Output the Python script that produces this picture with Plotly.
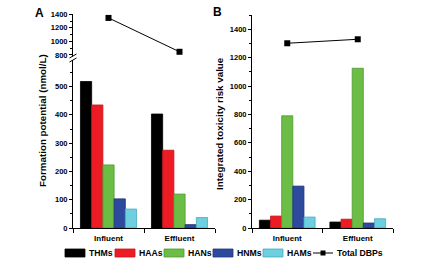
import plotly.graph_objects as go

W, H = 421, 266
def px(x): return x / W
def py(y): return 1 - y / H

categories = ["Influent", "Effluent"]
series_names = ["THMs", "HAAs", "HANs", "HNMs", "HAMs"]
colors = ["#000000", "#ed1c24", "#6cbd45", "#2e4a9e", "#6dcfe0"]
edge_colors = ["#000000", "#c8141c", "#4f9a32", "#1f3378", "#45a9bd"]

# Panel A: formation potential (nmol/L)
fp_thms = [518, 403]
fp_haas = [435, 275]
fp_hans = [223, 120]
fp_hnms = [103, 12]
fp_hams = [67, 37]
fp_total = [1346, 847]

# Panel B: integrated toxicity risk value
tr_thms = [55, 42]
tr_haas = [84, 62]
tr_hans = [790, 1125]
tr_hnms = [295, 35]
tr_hams = [77, 65]
tr_total = [1301, 1329]

FONT = "Liberation Sans, Arial, sans-serif"

fig = go.Figure()
fp = [fp_thms, fp_haas, fp_hans, fp_hnms, fp_hams]
tr = [tr_thms, tr_haas, tr_hans, tr_hnms, tr_hams]
for i, name in enumerate(series_names):
    fig.add_trace(go.Bar(x=categories, y=fp[i], name=name, xaxis="x", yaxis="y",
                         marker=dict(color=colors[i], line=dict(color=edge_colors[i], width=0.8)),
                         showlegend=False, offsetgroup=str(i)))
    fig.add_trace(go.Bar(x=categories, y=tr[i], name=name, xaxis="x2", yaxis="y2",
                         marker=dict(color=colors[i], line=dict(color=edge_colors[i], width=0.8)),
                         showlegend=False, offsetgroup=str(i)))

fig.add_trace(go.Scatter(x=categories, y=fp_total, xaxis="x", yaxis="y3", mode="lines+markers",
                         line=dict(color="black", width=1), marker=dict(symbol="square", size=6, color="black"),
                         showlegend=False, cliponaxis=False))
fig.add_trace(go.Scatter(x=categories, y=tr_total, xaxis="x2", yaxis="y2", mode="lines+markers",
                         line=dict(color="black", width=1), marker=dict(symbol="square", size=6, color="black"),
                         showlegend=False, cliponaxis=False))

tickfont = dict(family=FONT, size=7.5, color="black", weight="bold")
catfont = dict(family=FONT, size=8, color="black", weight="bold")
common_y = dict(showline=True, linecolor="black", linewidth=1, ticks="outside", ticklen=3,
                tickcolor="black", tickwidth=1, showgrid=False, zeroline=False, tickfont=tickfont,
                automargin=False,
                minor=dict(ticks="outside", ticklen=2, tickcolor="black", tickwidth=1, showgrid=False))
common_x = dict(type="category", range=[-0.5, 1.5], showline=True, linecolor="black", linewidth=1,
                ticks="outside", tickson="boundaries", ticklen=4, tickcolor="black", tickwidth=1,
                showgrid=False, zeroline=False, tickfont=catfont, automargin=False,
                ticklabelstandoff=2)

fig.update_layout(
    template="none",
    width=W, height=H, autosize=False,
    margin=dict(l=0, r=0, t=0, b=0, pad=0),
    paper_bgcolor="white", plot_bgcolor="white",
    barmode="group", bargap=0.21, bargroupgap=0,
    font=dict(family=FONT, color="black"),
    showlegend=False,
    hovermode=False,
    xaxis=dict(domain=[px(73), px(215)], anchor="y", **common_x),
    xaxis2=dict(domain=[px(252), px(393)], anchor="y2", **common_x),
    yaxis=dict(domain=[py(228), py(60)], anchor="x", range=[0, 594], tick0=0, dtick=100, **common_y),
    yaxis3=dict(domain=[py(57), py(14)], anchor="x", range=[770, 1404], tick0=0, dtick=200, **common_y),
    yaxis2=dict(domain=[py(228), py(15)], anchor="x2", range=[0, 1500], tick0=0, dtick=200, **common_y),
)
fig.layout.yaxis.minor.dtick = 50
fig.layout.yaxis3.minor.dtick = 100
fig.layout.yaxis2.minor.dtick = 100

shapes = []
# axis break marks on panel A
shapes.append(dict(type="rect", xref="paper", yref="paper", x0=px(70), x1=px(76), y0=py(59.5), y1=py(56.5),
                   fillcolor="white", line=dict(width=0), layer="above"))
for dy in (0, 4):
    shapes.append(dict(type="line", xref="paper", yref="paper", x0=px(69.5), y0=py(58 + dy),
                       x1=px(76.5), y1=py(54 + dy), line=dict(color="black", width=1)))

def ann(text, x, y, size, xanchor="center", angle=0):
    return dict(text=text, x=px(x), y=py(y), xref="paper", yref="paper", showarrow=False,
                xanchor=xanchor, yanchor="middle", textangle=angle,
                font=dict(family=FONT, size=size, color="black", weight="bold"))

annotations = [
    ann("A", 39, 13, 12),
    ann("B", 217, 12.5, 12),
    ann("Formation potential (nmol/L)", 42, 121, 9.8, angle=-90),
    ann("Integrated toxicity risk value", 220, 123, 9.8, angle=-90),
]

# custom legend
lx = [65, 115, 164, 213, 263]
ly = 253
for i, name in enumerate(series_names):
    shapes.append(dict(type="rect", xref="paper", yref="paper", x0=px(lx[i]), x1=px(lx[i] + 20),
                       y0=py(ly + 4), y1=py(ly - 4), fillcolor=colors[i],
                       line=dict(color=edge_colors[i], width=0.8)))
    annotations.append(ann(name, lx[i] + 22, ly, 8.7, xanchor="left"))
shapes.append(dict(type="line", xref="paper", yref="paper", x0=px(313), x1=px(333), y0=py(ly), y1=py(ly),
                   line=dict(color="black", width=1)))
shapes.append(dict(type="rect", xref="paper", yref="paper", x0=px(320.5), x1=px(325.5), y0=py(ly + 2.5),
                   y1=py(ly - 2.5), fillcolor="black", line=dict(width=0)))
annotations.append(ann("Total DBPs", 335, ly, 8.7, xanchor="left"))

fig.update_layout(shapes=shapes, annotations=annotations)
fig.write_html("out.html",
               config={"displayModeBar": False, "staticPlot": True},
               post_script="document.body.style.margin='0';document.body.style.padding='0';"
                           "document.body.style.overflow='hidden';")
